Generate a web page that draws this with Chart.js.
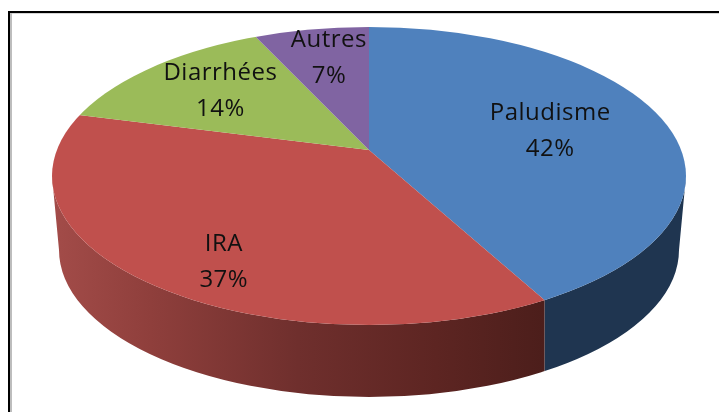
<!DOCTYPE html>
<html>
<head>
<meta charset="utf-8">
<style>
  html, body { margin: 0; padding: 0; background: #fff; overflow: hidden; }
  #lineTop { position: absolute; left: 8px; top: 11px; width: 711px; height: 2px; background: #000; }
  #lineTop2 { position: absolute; left: 12px; top: 13px; width: 707px; height: 1px; background: #d4d4d4; }
  #lineLeft { position: absolute; left: 8px; top: 11px; width: 2px; height: 401px; background: #000; }
  #lineLeft2 { position: absolute; left: 10px; top: 13px; width: 2px; height: 399px; background: #bdbdbd; }
  #wrap { position: absolute; left: 0; top: 0; width: 719px; height: 412px; }
</style>
<script src="https://cdn.jsdelivr.net/npm/chart.js@4"></script>
</head>
<body>
<div id="lineTop"></div>
<div id="lineTop2"></div>
<div id="lineLeft"></div>
<div id="lineLeft2"></div>
<div id="wrap"><canvas id="pie" width="719" height="412"></canvas></div>
<script>
"use strict";

const categories = ["Paludisme", "IRA", "Diarrhées", "Autres"];
const shares = [42, 37, 14, 7];
const faceColors = ["#4f81bd", "#c0504d", "#9bbb59", "#8064a2"];

// side of the cake, only the two front slices show
const wallColors = [
  [[0, "#1f3550"], [1, "#1f3550"]],
  [[0, "#a34c49"], [0.2, "#8f3f3c"], [0.5, "#6f2f2d"], [0.78, "#5d2522"], [1, "#4c1e1b"]],
  null,
  null,
];

// label placement: distance along the slice middle, then a small nudge
const labelRadius = [186, 250, 198, 202];
const labelNudge = [[1, 3], [8, 19], [4, 0], [4, 1]];

const tilt = 0.47;
const top3d = { x: 369, y: 176, rx: 317, ry: 149 };
const bottom3d = { x: 369, y: 250, rx: 310, ry: 147 };

// where a ray from the pie centre leaves the top ellipse
function rimPoint(arc, angle) {
  const dx = Math.cos(angle);
  const dy = Math.sin(angle) * tilt;
  const ox = (arc.x - top3d.x) / top3d.rx;
  const oy = (arc.y - top3d.y) / top3d.ry;
  const ux = dx / top3d.rx;
  const uy = dy / top3d.ry;
  const a = ux * ux + uy * uy;
  const b = 2 * (ox * ux + oy * uy);
  const c = ox * ox + oy * oy - 1;
  const t = (-b + Math.sqrt(b * b - 4 * a * c)) / (2 * a);
  return { x: arc.x + t * dx, y: arc.y + t * dy };
}

const cakePlugin = {
  id: "cake",
  beforeDatasetsDraw(chart) {
    const ctx = chart.ctx;
    const arcs = chart.getDatasetMeta(0).data;
    const c = arcs[0];
    const rightAngle = Math.atan2((top3d.y - c.y) / tilt, top3d.rx);
    const leftAngle = Math.PI - rightAngle;

    arcs.forEach((arc, i) => {
      const from = Math.max(arc.startAngle, rightAngle);
      const to = Math.min(arc.endAngle, leftAngle);
      if (from >= to || !wallColors[i]) return;
      const xRight = rimPoint(arc, from).x;
      const xLeft = rimPoint(arc, to).x;
      const grad = ctx.createLinearGradient(xLeft, 0, xRight, 0);
      wallColors[i].forEach((s) => grad.addColorStop(s[0], s[1]));

      ctx.save();
      ctx.beginPath();
      ctx.rect(xLeft, 0, xRight - xLeft, chart.height);
      ctx.clip();
      ctx.beginPath();
      ctx.ellipse(top3d.x, top3d.y, top3d.rx, top3d.ry, 0, 0, Math.PI);
      ctx.lineTo(bottom3d.x - bottom3d.rx, bottom3d.y);
      ctx.ellipse(bottom3d.x, bottom3d.y, bottom3d.rx, bottom3d.ry, 0, Math.PI, 0, true);
      ctx.closePath();
      ctx.fillStyle = grad;
      ctx.fill();
      ctx.restore();
    });

    // squash the arcs and cut them to the top ellipse
    ctx.save();
    ctx.beginPath();
    ctx.ellipse(top3d.x, top3d.y, top3d.rx, top3d.ry, 0, 0, Math.PI * 2);
    ctx.clip();
    ctx.translate(c.x, c.y);
    ctx.scale(1, tilt);
    ctx.translate(-c.x, -c.y);
  },
  afterDatasetsDraw(chart) {
    const ctx = chart.ctx;
    ctx.restore();
    const arcs = chart.getDatasetMeta(0).data;
    ctx.save();
    ctx.fillStyle = "#111";
    ctx.font = '24px "Open Sans"';
    ctx.letterSpacing = "0.5px";
    ctx.textAlign = "center";
    ctx.textBaseline = "middle";
    arcs.forEach((arc, i) => {
      const mid = (arc.startAngle + arc.endAngle) / 2;
      const x = arc.x + Math.cos(mid) * labelRadius[i] + labelNudge[i][0];
      const y = arc.y + Math.sin(mid) * labelRadius[i] * tilt + labelNudge[i][1];
      ctx.fillText(categories[i], x, y - 18);
      ctx.fillText(shares[i] + "%", x, y + 18);
    });
    ctx.restore();
  },
};

new Chart(document.getElementById("pie").getContext("2d"), {
  type: "pie",
  data: {
    labels: categories,
    datasets: [
      {
        data: shares,
        backgroundColor: faceColors,
        borderWidth: 0,
        clip: false,
      },
    ],
  },
  options: {
    responsive: false,
    animation: false,
    radius: 400,
    layout: { padding: { left: 19, bottom: 112 } },
    plugins: {
      legend: { display: false },
      tooltip: { enabled: false },
    },
  },
  plugins: [cakePlugin],
});
</script>
</body>
</html>
